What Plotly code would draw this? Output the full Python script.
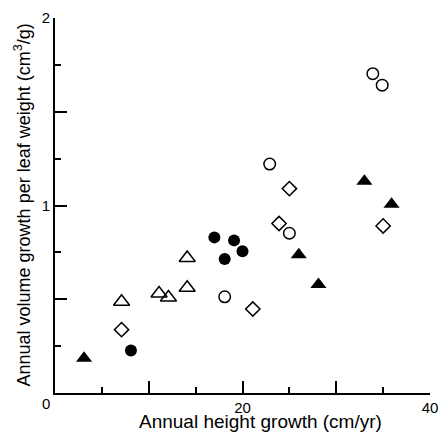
import plotly.graph_objects as go

# Data
filled_tri_x = [3.1, 26.0, 28.1, 33.0, 35.9]
filled_tri_y = [0.186, 0.737, 0.579, 1.130, 1.007]

filled_circ_x = [8.1, 17.0, 19.1, 20.0, 18.1]
filled_circ_y = [0.227, 0.830, 0.814, 0.756, 0.715]

open_tri_x = [7.1, 11.1, 12.1, 14.1, 14.1]
open_tri_y = [0.487, 0.531, 0.509, 0.561, 0.720]

open_circ_x = [18.1, 22.9, 25.0, 33.9, 34.9]
open_circ_y = [0.513, 1.221, 0.852, 1.703, 1.642]

open_diam_x = [7.1, 21.1, 23.9, 25.0, 35.0]
open_diam_y = [0.338, 0.448, 0.904, 1.090, 0.891]

x_major = [0, 10, 20, 30, 40]
x_major_text = ["", "", "20", "", "40"]
x_minor = [5, 15, 25, 35]
y_major = [0, 0.5, 1, 1.5, 2]
y_major_text = ["", "", "1", "", "2"]
y_minor = [0.25, 0.75, 1.25, 1.75]

FONT = "Liberation Sans, Arial, Helvetica, sans-serif"

fig = go.Figure()
fig.add_trace(go.Scatter(x=filled_tri_x, y=filled_tri_y, mode="markers",
                         marker=dict(symbol="triangle-up", size=14, color="black",
                                     line=dict(width=0))))
fig.add_trace(go.Scatter(x=filled_circ_x, y=filled_circ_y, mode="markers",
                         marker=dict(symbol="circle", size=12, color="black",
                                     line=dict(width=0))))
fig.add_trace(go.Scatter(x=open_tri_x, y=open_tri_y, mode="markers",
                         marker=dict(symbol="triangle-up-open", size=14, color="black",
                                     line=dict(width=1.5))))
fig.add_trace(go.Scatter(x=open_circ_x, y=open_circ_y, mode="markers",
                         marker=dict(symbol="circle-open", size=11.5, color="black",
                                     line=dict(width=1.5))))
fig.add_trace(go.Scatter(x=open_diam_x, y=open_diam_y, mode="markers",
                         marker=dict(symbol="diamond-open", size=11, color="black",
                                     line=dict(width=1.5))))

axis_common = dict(showgrid=False, zeroline=False, showline=True, linecolor="black",
                   linewidth=2, ticks="inside", ticklen=12, tickwidth=1.5,
                   tickcolor="black", tickfont=dict(family=FONT, size=15, color="black"))

fig.update_xaxes(range=[0, 40], tickmode="array", tickvals=x_major, ticktext=x_major_text,
                 minor=dict(tickvals=x_minor, ticks="inside", ticklen=6, tickwidth=1.5,
                            tickcolor="black"),
                 **axis_common)
fig.update_yaxes(range=[0, 2], tickmode="array", tickvals=y_major, ticktext=y_major_text,
                 minor=dict(tickvals=y_minor, ticks="inside", ticklen=6, tickwidth=1.5,
                            tickcolor="black"),
                 **axis_common)

W, H = 448, 434
L, R, T, B = 55, 9.7, 14.5, 41
pw, ph = W - L - R, H - T - B

def px(xp):
    return (xp - L) / pw

def py(yp):
    return (H - B - yp) / ph

fig.update_layout(
    width=W, height=H,
    margin=dict(l=L, r=R, t=T, b=B, pad=0),
    paper_bgcolor="white", plot_bgcolor="white",
    showlegend=False,
    font=dict(family=FONT, color="black"),
    annotations=[
        dict(text="Annual height growth (cm/yr)", x=px(265), y=py(422), xref="paper",
             yref="paper", xanchor="center", yanchor="middle", showarrow=False,
             font=dict(family=FONT, size=19, color="black")),
        dict(text="Annual volume growth per leaf weight (cm<sup>3</sup>/g)", x=px(22),
             y=py(203), xref="paper", yref="paper", xanchor="center", yanchor="middle",
             textangle=-90, showarrow=False,
             font=dict(family=FONT, size=18, color="black")),
        dict(text="0", x=px(46), y=py(404), xref="paper", yref="paper",
             xanchor="center", yanchor="middle", showarrow=False,
             font=dict(family=FONT, size=15, color="black")),
    ],
)

fig.write_html("out.html")
